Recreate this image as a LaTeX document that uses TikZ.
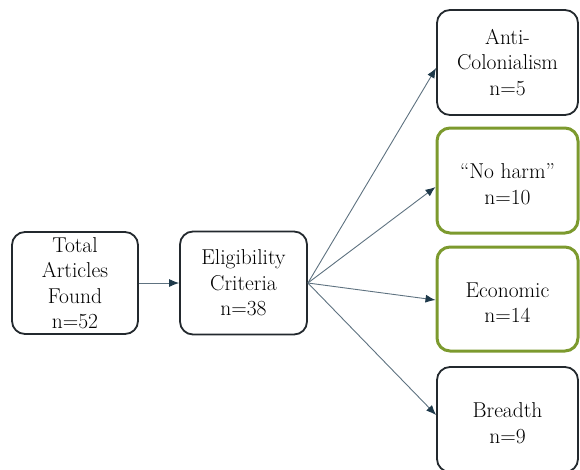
\documentclass[tikz,border=0pt]{standalone}
\usepackage{fontspec}
\usetikzlibrary{arrows.meta}
\definecolor{darkedge}{HTML}{23292E}
\definecolor{greenedge}{HTML}{7C9A2E}
\definecolor{arrowline}{HTML}{5E7280}
\definecolor{arrowtip}{HTML}{1E394A}
\tikzset{
  box/.style={draw=darkedge, line width=1.8pt, rounded corners=13pt, fill=white,
    align=center, inner sep=2pt,
    font=\fontsize{21.5pt}{25.5pt}\selectfont},
  greenbox/.style={box, draw=greenedge, line width=3pt},
  conn/.style={draw=arrowline, line width=0.9pt,
    -{Latex[length=10pt,width=8pt,color=arrowtip]}},
}
\begin{document}
\begin{tikzpicture}[x=1pt,y=-1pt]
\useasboundingbox (0,0) rectangle (580,469);
\node[box, minimum width=126pt, minimum height=102pt] (total) at (75,283)
  {Total\\Articles\\Found\\n=52};
\node[box, minimum width=127pt, minimum height=103pt] (elig) at (243.5,283)
  {Eligibility\\Criteria\\n=38};
\node[box, minimum width=141pt, minimum height=105pt] (anti) at (507.5,62.5)
  {Anti-\\Colonialism\\n=5};
\node[greenbox, minimum width=141pt, minimum height=105pt] (noharm) at (507.5,180.5)
  {\rule{0pt}{22pt}“No harm”\\n=10};
\node[greenbox, minimum width=141pt, minimum height=104pt] (econ) at (507.5,299)
  {\rule{0pt}{22pt}Economic\\n=14};
\node[box, minimum width=141pt, minimum height=105pt] (breadth) at (507.5,419.5)
  {\rule{0pt}{22pt}Breadth\\n=9};
\draw[conn] (total.east) -- (elig.west);
\draw[conn] (elig.east) -- ([yshift=-5.5pt]anti.west);
\draw[conn] (elig.east) -- ([yshift=-6.5pt]noharm.west);
\draw[conn] (elig.east) -- ([yshift=-1pt]econ.west);
\draw[conn] (elig.east) -- ([yshift=4.5pt]breadth.west);
\end{tikzpicture}
\end{document}
